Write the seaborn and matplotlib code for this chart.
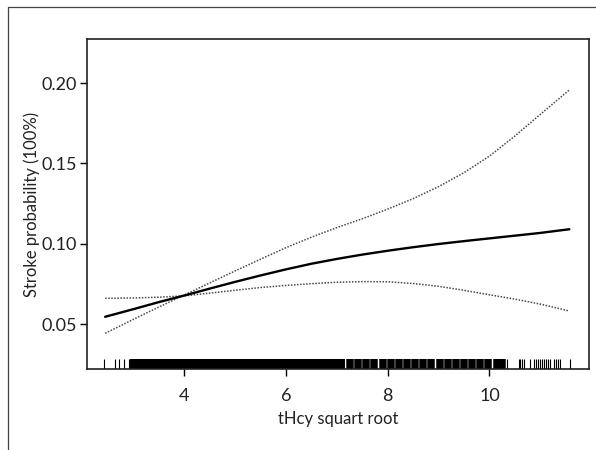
import numpy as np
import pandas as pd
import seaborn as sns
import matplotlib.pyplot as plt
from matplotlib.lines import Line2D

# square root of tHcy where the curve is evaluated
hcy_sqrt = [2.45, 3.0, 3.5, 4.0, 4.5, 5.0, 5.5, 6.0, 6.5, 7.0, 7.5, 8.0,
            8.5, 9.0, 9.5, 10.0, 10.5, 11.0, 11.57]
# fitted stroke probability and its confidence limits
prob_fit = [0.0545, 0.0592, 0.0636, 0.0677, 0.0720, 0.0762, 0.0802, 0.0840,
            0.0875, 0.0905, 0.0932, 0.0956, 0.0978, 0.0998, 0.1016, 0.1033,
            0.1050, 0.1067, 0.1090]
prob_upper = [0.0442, 0.0528, 0.0605, 0.0680, 0.0755, 0.0830, 0.0903, 0.0975,
              0.1040, 0.1100, 0.1155, 0.1215, 0.1280, 0.1355, 0.1442, 0.1545,
              0.1670, 0.1805, 0.1957]
prob_lower = [0.0660, 0.0662, 0.0667, 0.0675, 0.0692, 0.0710, 0.0727, 0.0740,
              0.0751, 0.0760, 0.0764, 0.0763, 0.0752, 0.0735, 0.0710, 0.0682,
              0.0655, 0.0624, 0.0581]

# rug of observed values (dense block, mid block with small gaps, single ticks)
rug_dense = [3.05, 3.25, 3.45, 3.65, 3.85, 4.05, 4.25, 4.45, 4.65, 4.85, 5.05,
             5.25, 5.45, 5.65, 5.85, 6.05, 6.25, 6.45, 6.65, 6.85, 7.05]
rug_mid = [7.26, 7.42, 7.58, 7.74, 7.90, 8.06, 8.22, 8.38, 8.54, 8.70, 8.86,
           9.02, 9.18, 9.34, 9.50, 9.66, 9.82, 9.98, 10.14, 10.24]
rug_single = [2.43, 2.65, 2.72, 2.83, 2.91, 10.34, 10.58, 10.61, 10.64, 10.67,
              10.80, 10.87, 10.91, 10.95, 10.99, 11.03, 11.07, 11.11, 11.15,
              11.19, 11.27, 11.30, 11.34, 11.38, 11.58]

y_ticks = [0.05, 0.10, 0.15, 0.20]
x_ticks = [4, 6, 8, 10]

df = pd.DataFrame({"x": hcy_sqrt, "fit": prob_fit, "upper": prob_upper, "lower": prob_lower})

sns.set_style("ticks")
plt.rcParams['font.family'] = ['Lato', 'DejaVu Sans']

fig = plt.figure(figsize=(5.96, 4.5), dpi=100)
ax = fig.add_axes([0.146, 0.18, 0.842, 0.7333])

sns.lineplot(data=df, x="x", y="upper", ax=ax, color="#4a4a4a", lw=1.1, linestyle=(0, (1, 1)))
sns.lineplot(data=df, x="x", y="lower", ax=ax, color="#4a4a4a", lw=1.1, linestyle=(0, (1, 1)))
sns.lineplot(data=df, x="x", y="fit", ax=ax, color="black", lw=1.7)

sns.rugplot(x=rug_dense, ax=ax, height=0.03, color="black", linewidth=8.6)
sns.rugplot(x=rug_mid, ax=ax, height=0.03, color="black", linewidth=5.4)
sns.rugplot(x=rug_single, ax=ax, height=0.03, color="black", linewidth=0.8)

ax.set_xlim(2.094, 11.953)
ax.set_ylim(0.022, 0.2274)
ax.set_xticks(x_ticks)
ax.set_yticks(y_ticks)
ax.set_yticklabels([f"{v:.2f}" for v in y_ticks])
ax.tick_params(axis="both", labelsize=13, length=5, width=1, color="black", labelcolor="#222222")
ax.tick_params(axis="x", pad=9)
ax.tick_params(axis="y", pad=2)
ax.set_xlabel("tHcy squart root", fontsize=12, color="#222222", labelpad=5)
ax.set_ylabel("Stroke probability (100%)", fontsize=12, color="#222222", labelpad=1)
for s in ax.spines.values():
    s.set_visible(True)
    s.set_color("#222222")
    s.set_linewidth(1.2)

# outer frame of the figure panel
fig.add_artist(Line2D([0.0134, 0.0134], [0.0, 0.9844], color="#444444", lw=0.9))
fig.add_artist(Line2D([0.0134, 1.0], [0.9844, 0.9844], color="#444444", lw=0.9))

fig.savefig("out.png", dpi=100)
